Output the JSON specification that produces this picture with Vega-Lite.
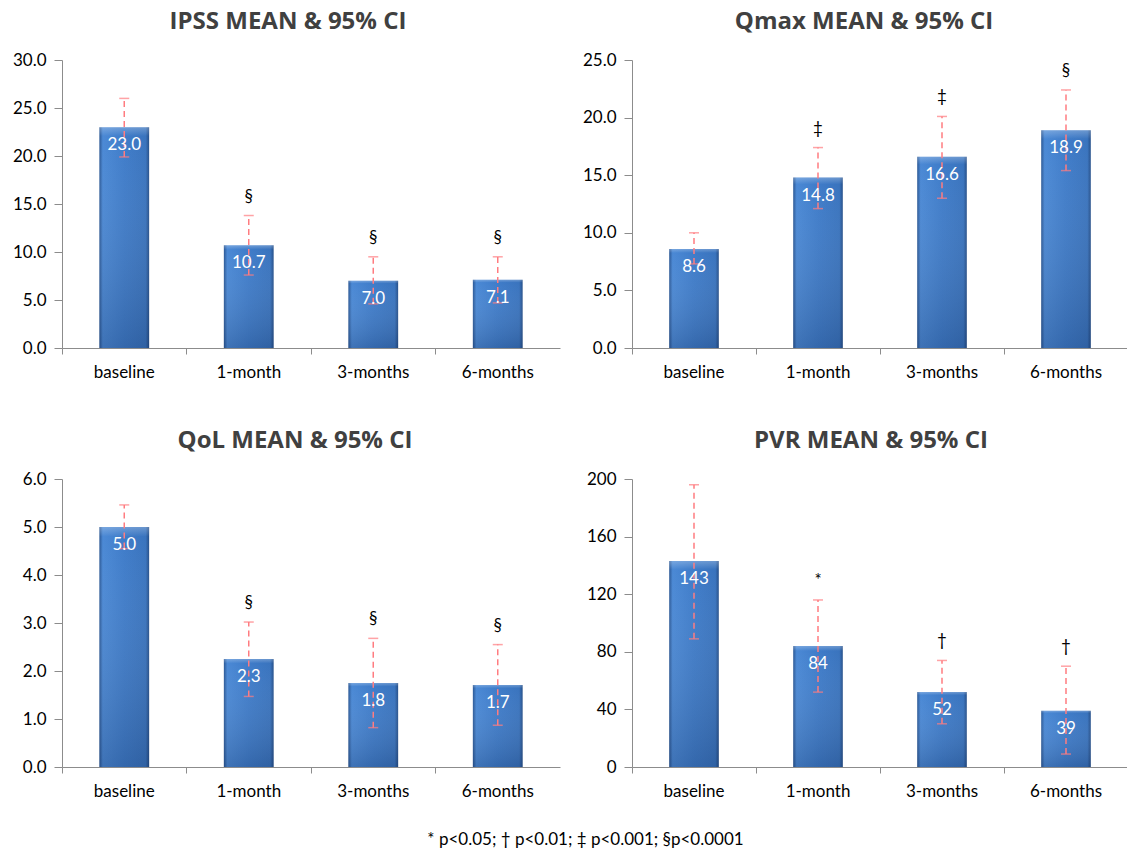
{
  "$schema": "https://vega.github.io/schema/vega-lite/v6.json",
  "padding": {"left": 5, "top": 10, "right": 0, "bottom": 0},
  "background": "white",
  "datasets": {
    "d": [
      {"panel": "IPSS", "time": "baseline", "mean": 23.0, "lo": 19.9, "hi": 26.0, "label": "23.0", "sig": ""},
      {"panel": "IPSS", "time": "1-month", "mean": 10.7, "lo": 7.6, "hi": 13.8, "label": "10.7", "sig": "§"},
      {"panel": "IPSS", "time": "3-months", "mean": 7.0, "lo": 4.6, "hi": 9.5, "label": "7.0", "sig": "§"},
      {"panel": "IPSS", "time": "6-months", "mean": 7.1, "lo": 4.7, "hi": 9.5, "label": "7.1", "sig": "§"},
      {"panel": "Qmax", "time": "baseline", "mean": 8.6, "lo": 7.3, "hi": 10.0, "label": "8.6", "sig": ""},
      {"panel": "Qmax", "time": "1-month", "mean": 14.8, "lo": 12.1, "hi": 17.4, "label": "14.8", "sig": "‡"},
      {"panel": "Qmax", "time": "3-months", "mean": 16.6, "lo": 13.0, "hi": 20.1, "label": "16.6", "sig": "‡"},
      {"panel": "Qmax", "time": "6-months", "mean": 18.9, "lo": 15.4, "hi": 22.4, "label": "18.9", "sig": "§"},
      {"panel": "QoL", "time": "baseline", "mean": 5.0, "lo": 4.55, "hi": 5.46, "label": "5.0", "sig": ""},
      {"panel": "QoL", "time": "1-month", "mean": 2.25, "lo": 1.47, "hi": 3.02, "label": "2.3", "sig": "§"},
      {"panel": "QoL", "time": "3-months", "mean": 1.75, "lo": 0.82, "hi": 2.68, "label": "1.8", "sig": "§"},
      {"panel": "QoL", "time": "6-months", "mean": 1.71, "lo": 0.87, "hi": 2.55, "label": "1.7", "sig": "§"},
      {"panel": "PVR", "time": "baseline", "mean": 143, "lo": 89, "hi": 196, "label": "143", "sig": ""},
      {"panel": "PVR", "time": "1-month", "mean": 84, "lo": 52, "hi": 116, "label": "84", "sig": "*"},
      {"panel": "PVR", "time": "3-months", "mean": 52, "lo": 30, "hi": 74, "label": "52", "sig": "†"},
      {"panel": "PVR", "time": "6-months", "mean": 39, "lo": 9, "hi": 70, "label": "39", "sig": "†"}
    ]
  },
  "title": {"text": "* p<0.05; † p<0.01; ‡ p<0.001; §p<0.0001", "orient": "bottom", "anchor": "middle", "font": "Lato", "fontSize": 17, "fontWeight": "normal", "color": "#000000", "offset": 30, "dx": 19},
  "spacing": 46,
  "vconcat": [
    {
      "spacing": 15,
      "hconcat": [
        {
          "title": {"text": "IPSS MEAN & 95% CI", "frame": "group", "dx": -23, "offset": 17},
          "width": 498, "height": 288,
          "data": {"name": "d"},
          "transform": [{"filter": "datum.panel === 'IPSS'"}],
          "encoding": {"x": {"field": "time", "type": "nominal", "sort": ["baseline", "1-month", "3-months", "6-months"], "scale": {"paddingInner": 0, "paddingOuter": 0}, "title": null}},
          "layer": [
            {"mark": {"type": "bar", "width": {"band": 0.4}, "fill": {"gradient": "linear", "x1": 0, "x2": 1, "y1": 0, "y2": 0, "stops": [{"offset": 0, "color": "#2B5895"}, {"offset": 0.07, "color": "#4B89D5"}, {"offset": 0.5, "color": "#3F7CC9"}, {"offset": 0.93, "color": "#3A74BE"}, {"offset": 1, "color": "#26508A"}]}}, "encoding": {"y": {"field": "mean", "type": "quantitative", "title": null, "scale": {"domain": [0, 30], "nice": false}, "axis": {"values": [0, 5, 10, 15, 20, 25, 30], "format": ".1f"}}}},
            {"mark": {"type": "bar", "width": {"band": 0.4}, "fill": {"gradient": "linear", "x1": 0, "x2": 0, "y1": 0, "y2": 1, "stops": [{"offset": 0, "color": "rgba(255,255,255,0.25)"}, {"offset": 0.04, "color": "rgba(255,255,255,0.0)"}, {"offset": 1, "color": "rgba(0,10,40,0.18)"}]}}, "encoding": {"y": {"field": "mean", "type": "quantitative", "title": null}}},
            {"mark": {"type": "rule", "color": "#FF7C80", "strokeWidth": 1.5, "strokeDash": [6, 4]}, "encoding": {"y": {"field": "lo", "type": "quantitative", "title": null}, "y2": {"field": "hi"}}},
            {"mark": {"type": "tick", "color": "#FF7C80", "size": 10, "thickness": 1.5}, "encoding": {"y": {"field": "hi", "type": "quantitative", "title": null}}},
            {"mark": {"type": "tick", "color": "#FF7C80", "size": 10, "thickness": 1.5}, "encoding": {"y": {"field": "lo", "type": "quantitative", "title": null}}},
            {"mark": {"type": "text", "color": "white", "fontSize": 17, "baseline": "middle", "dy": 18}, "encoding": {"y": {"field": "mean", "type": "quantitative", "title": null}, "text": {"field": "label"}}},
            {"transform": [{"filter": "datum.sig !== ''"}], "mark": {"type": "text", "color": "black", "fontSize": 17, "baseline": "middle", "dy": -19}, "encoding": {"y": {"field": "hi", "type": "quantitative", "title": null}, "text": {"field": "sig"}}}
          ]
        },
        {
          "title": {"text": "Qmax MEAN & 95% CI", "frame": "group", "dx": -16, "offset": 17},
          "width": 496, "height": 288,
          "data": {"name": "d"},
          "transform": [{"filter": "datum.panel === 'Qmax'"}],
          "encoding": {"x": {"field": "time", "type": "nominal", "sort": ["baseline", "1-month", "3-months", "6-months"], "scale": {"paddingInner": 0, "paddingOuter": 0}, "title": null}},
          "layer": [
            {"mark": {"type": "bar", "width": {"band": 0.4}, "fill": {"gradient": "linear", "x1": 0, "x2": 1, "y1": 0, "y2": 0, "stops": [{"offset": 0, "color": "#2B5895"}, {"offset": 0.07, "color": "#4B89D5"}, {"offset": 0.5, "color": "#3F7CC9"}, {"offset": 0.93, "color": "#3A74BE"}, {"offset": 1, "color": "#26508A"}]}}, "encoding": {"y": {"field": "mean", "type": "quantitative", "title": null, "scale": {"domain": [0, 25], "nice": false}, "axis": {"values": [0, 5, 10, 15, 20, 25], "format": ".1f"}}}},
            {"mark": {"type": "bar", "width": {"band": 0.4}, "fill": {"gradient": "linear", "x1": 0, "x2": 0, "y1": 0, "y2": 1, "stops": [{"offset": 0, "color": "rgba(255,255,255,0.25)"}, {"offset": 0.04, "color": "rgba(255,255,255,0.0)"}, {"offset": 1, "color": "rgba(0,10,40,0.18)"}]}}, "encoding": {"y": {"field": "mean", "type": "quantitative", "title": null}}},
            {"mark": {"type": "rule", "color": "#FF7C80", "strokeWidth": 1.5, "strokeDash": [6, 4]}, "encoding": {"y": {"field": "lo", "type": "quantitative", "title": null}, "y2": {"field": "hi"}}},
            {"mark": {"type": "tick", "color": "#FF7C80", "size": 10, "thickness": 1.5}, "encoding": {"y": {"field": "hi", "type": "quantitative", "title": null}}},
            {"mark": {"type": "tick", "color": "#FF7C80", "size": 10, "thickness": 1.5}, "encoding": {"y": {"field": "lo", "type": "quantitative", "title": null}}},
            {"mark": {"type": "text", "color": "white", "fontSize": 17, "baseline": "middle", "dy": 18}, "encoding": {"y": {"field": "mean", "type": "quantitative", "title": null}, "text": {"field": "label"}}},
            {"transform": [{"filter": "datum.sig !== ''"}], "mark": {"type": "text", "color": "black", "fontSize": 17, "baseline": "middle", "dy": -19}, "encoding": {"y": {"field": "hi", "type": "quantitative", "title": null}, "text": {"field": "sig"}}}
          ]
        }
      ]
    },
    {
      "spacing": 15,
      "hconcat": [
        {
          "title": {"text": "QoL MEAN & 95% CI", "frame": "group", "dx": -16, "offset": 17},
          "width": 498, "height": 288,
          "data": {"name": "d"},
          "transform": [{"filter": "datum.panel === 'QoL'"}],
          "encoding": {"x": {"field": "time", "type": "nominal", "sort": ["baseline", "1-month", "3-months", "6-months"], "scale": {"paddingInner": 0, "paddingOuter": 0}, "title": null}},
          "layer": [
            {"mark": {"type": "bar", "width": {"band": 0.4}, "fill": {"gradient": "linear", "x1": 0, "x2": 1, "y1": 0, "y2": 0, "stops": [{"offset": 0, "color": "#2B5895"}, {"offset": 0.07, "color": "#4B89D5"}, {"offset": 0.5, "color": "#3F7CC9"}, {"offset": 0.93, "color": "#3A74BE"}, {"offset": 1, "color": "#26508A"}]}}, "encoding": {"y": {"field": "mean", "type": "quantitative", "title": null, "scale": {"domain": [0, 6], "nice": false}, "axis": {"values": [0, 1, 2, 3, 4, 5, 6], "format": ".1f"}}}},
            {"mark": {"type": "bar", "width": {"band": 0.4}, "fill": {"gradient": "linear", "x1": 0, "x2": 0, "y1": 0, "y2": 1, "stops": [{"offset": 0, "color": "rgba(255,255,255,0.25)"}, {"offset": 0.04, "color": "rgba(255,255,255,0.0)"}, {"offset": 1, "color": "rgba(0,10,40,0.18)"}]}}, "encoding": {"y": {"field": "mean", "type": "quantitative", "title": null}}},
            {"mark": {"type": "rule", "color": "#FF7C80", "strokeWidth": 1.5, "strokeDash": [6, 4]}, "encoding": {"y": {"field": "lo", "type": "quantitative", "title": null}, "y2": {"field": "hi"}}},
            {"mark": {"type": "tick", "color": "#FF7C80", "size": 10, "thickness": 1.5}, "encoding": {"y": {"field": "hi", "type": "quantitative", "title": null}}},
            {"mark": {"type": "tick", "color": "#FF7C80", "size": 10, "thickness": 1.5}, "encoding": {"y": {"field": "lo", "type": "quantitative", "title": null}}},
            {"mark": {"type": "text", "color": "white", "fontSize": 17, "baseline": "middle", "dy": 18}, "encoding": {"y": {"field": "mean", "type": "quantitative", "title": null}, "text": {"field": "label"}}},
            {"transform": [{"filter": "datum.sig !== ''"}], "mark": {"type": "text", "color": "black", "fontSize": 17, "baseline": "middle", "dy": -19}, "encoding": {"y": {"field": "hi", "type": "quantitative", "title": null}, "text": {"field": "sig"}}}
          ]
        },
        {
          "title": {"text": "PVR MEAN & 95% CI", "frame": "group", "dx": -9, "offset": 17},
          "width": 496, "height": 288,
          "data": {"name": "d"},
          "transform": [{"filter": "datum.panel === 'PVR'"}],
          "encoding": {"x": {"field": "time", "type": "nominal", "sort": ["baseline", "1-month", "3-months", "6-months"], "scale": {"paddingInner": 0, "paddingOuter": 0}, "title": null}},
          "layer": [
            {"mark": {"type": "bar", "width": {"band": 0.4}, "fill": {"gradient": "linear", "x1": 0, "x2": 1, "y1": 0, "y2": 0, "stops": [{"offset": 0, "color": "#2B5895"}, {"offset": 0.07, "color": "#4B89D5"}, {"offset": 0.5, "color": "#3F7CC9"}, {"offset": 0.93, "color": "#3A74BE"}, {"offset": 1, "color": "#26508A"}]}}, "encoding": {"y": {"field": "mean", "type": "quantitative", "title": null, "scale": {"domain": [0, 200], "nice": false}, "axis": {"values": [0, 40, 80, 120, 160, 200], "format": "d"}}}},
            {"mark": {"type": "bar", "width": {"band": 0.4}, "fill": {"gradient": "linear", "x1": 0, "x2": 0, "y1": 0, "y2": 1, "stops": [{"offset": 0, "color": "rgba(255,255,255,0.25)"}, {"offset": 0.04, "color": "rgba(255,255,255,0.0)"}, {"offset": 1, "color": "rgba(0,10,40,0.18)"}]}}, "encoding": {"y": {"field": "mean", "type": "quantitative", "title": null}}},
            {"mark": {"type": "rule", "color": "#FF7C80", "strokeWidth": 1.5, "strokeDash": [6, 4]}, "encoding": {"y": {"field": "lo", "type": "quantitative", "title": null}, "y2": {"field": "hi"}}},
            {"mark": {"type": "tick", "color": "#FF7C80", "size": 10, "thickness": 1.5}, "encoding": {"y": {"field": "hi", "type": "quantitative", "title": null}}},
            {"mark": {"type": "tick", "color": "#FF7C80", "size": 10, "thickness": 1.5}, "encoding": {"y": {"field": "lo", "type": "quantitative", "title": null}}},
            {"mark": {"type": "text", "color": "white", "fontSize": 17, "baseline": "middle", "dy": 18}, "encoding": {"y": {"field": "mean", "type": "quantitative", "title": null}, "text": {"field": "label"}}},
            {"transform": [{"filter": "datum.sig !== ''"}], "mark": {"type": "text", "color": "black", "fontSize": 17, "baseline": "middle", "dy": -19}, "encoding": {"y": {"field": "hi", "type": "quantitative", "title": null}, "text": {"field": "sig"}}}
          ]
        }
      ]
    }
  ],
  "config": {
    "font": "Lato",
    "view": {"stroke": null},
    "text": {"font": "Lato"},
    "axis": {"domainColor": "#8C8C8C", "tickColor": "#8C8C8C", "labelColor": "#000000", "labelFont": "Lato", "labelFontSize": 17, "grid": false},
    "axisY": {"tickSize": 8, "labelPadding": 8, "minExtent": 57, "maxExtent": 57},
    "axisX": {"tickSize": 6, "bandPosition": 0, "labelPadding": 10, "labelAngle": 0, "minExtent": 35, "maxExtent": 35},
    "title": {"font": "Open Sans", "fontSize": 24, "fontWeight": "bold", "color": "#404040"}
  }
}
